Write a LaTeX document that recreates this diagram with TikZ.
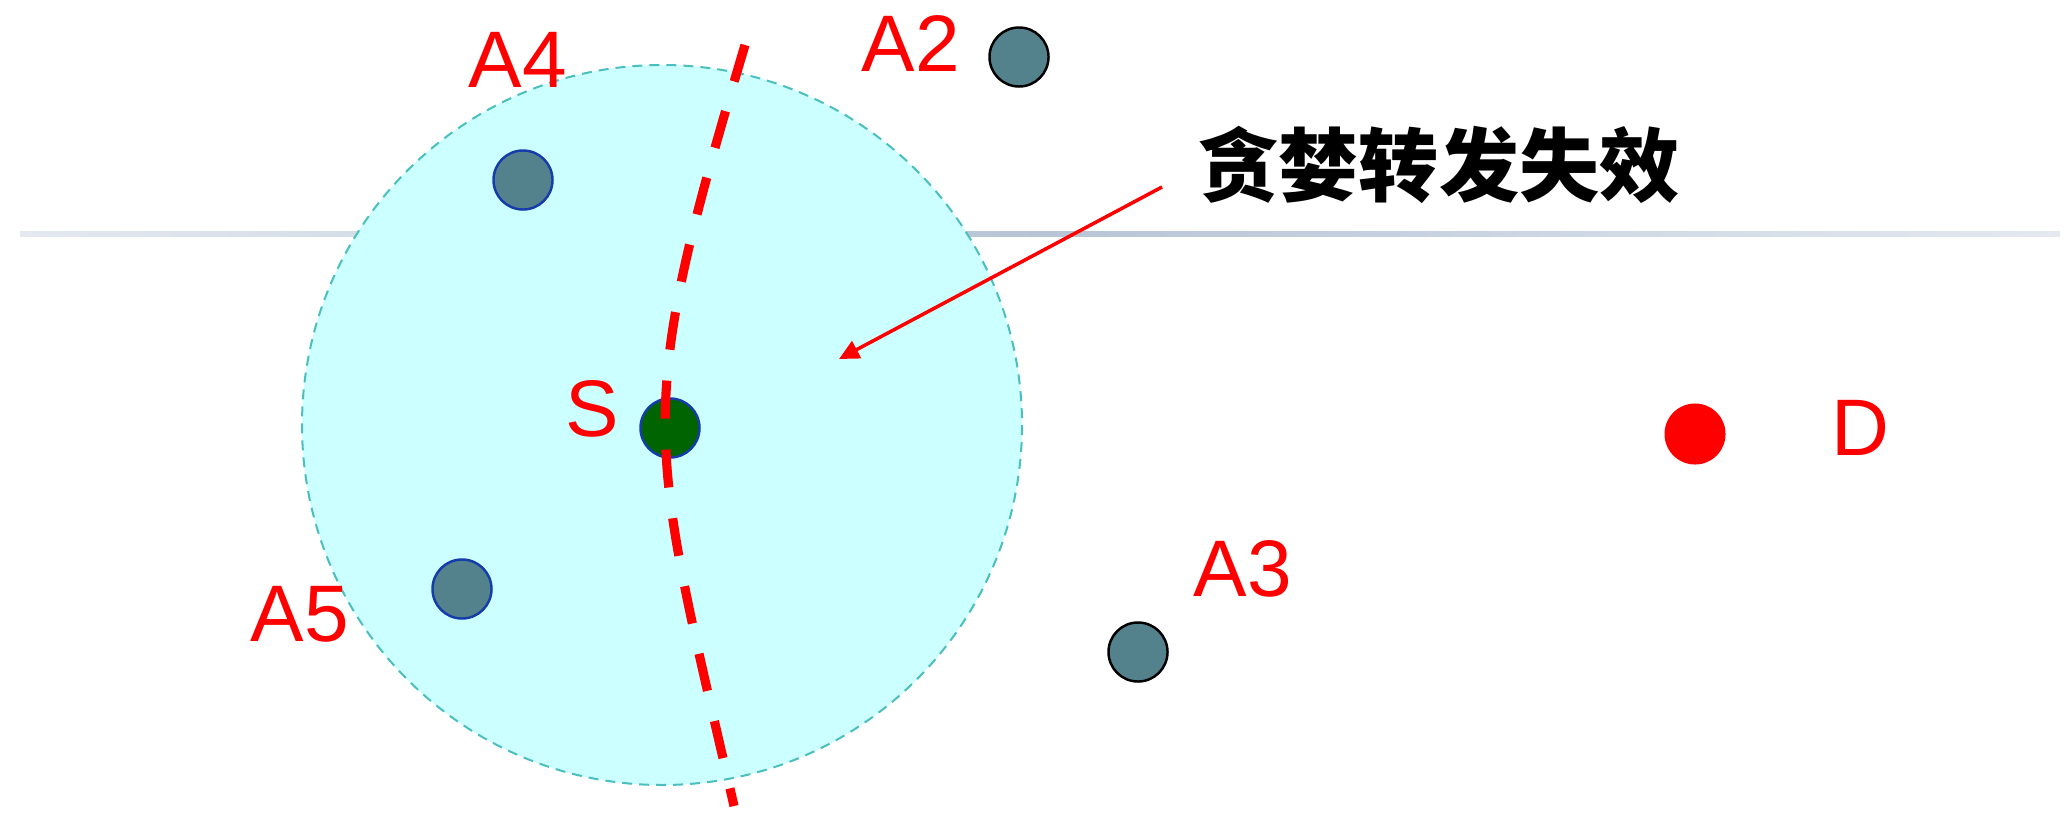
\documentclass[tikz,border=0pt]{standalone}
\usepackage{fontspec}
\setmainfont{Liberation Sans}
\newfontfamily\cjk{Noto Sans CJK SC Black}
\usetikzlibrary{calc}
\usetikzlibrary{arrows.meta}
\definecolor{nodefill}{RGB}{84,130,140}
\definecolor{nodeblue}{RGB}{20,60,170}
\definecolor{srcgreen}{RGB}{0,100,0}
\definecolor{rangefill}{RGB}{204,255,255}
\definecolor{rangeedge}{RGB}{75,190,190}
\definecolor{rulelight}{RGB}{228,233,240}
\definecolor{ruledark}{RGB}{182,196,214}
\tikzstyle{sensor}=[circle,draw=black,fill=nodefill,line width=0.7pt,minimum size=0.59cm,inner sep=0pt]
\tikzstyle{insensor}=[sensor,draw=nodeblue]
\tikzstyle{nodelabel}=[text=red,inner sep=0pt,font=\fontsize{22.8}{27}\selectfont]
\tikzstyle{cutline}=[red,line width=2.6pt,dash pattern=on 0.38cm off 0.31cm]
\begin{document}
\begin{tikzpicture}[x=0.01cm,y=-0.01cm]
\useasboundingbox (0,0) rectangle (2064,818);
% slide rule in the background
\shade[left color=rulelight,right color=rulelight,middle color=ruledark] (20,231) rectangle (2060,236);
% radio range of S
\coordinate (rangecenter) at (662,425);
\draw[rangeedge,fill=rangefill,line width=0.57pt,dash pattern=on 0.1cm off 0.07cm] (rangecenter) circle (360);
\node[insensor] (A4) at (523,180) {};
\node[insensor] (A5) at (462,589) {};
\node[sensor] (A2) at (1019,57) {};
\node[sensor] (A3) at (1138,652) {};
\node[circle,draw=nodeblue,fill=srcgreen,line width=0.7pt,minimum size=0.59cm,inner sep=0pt] (S) at (670,428) {};
\node[circle,fill=red,minimum size=0.61cm,inner sep=0pt] (D) at (1695,434) {};
\node[nodelabel] (labA4) at (518,60) {A4};
\node[nodelabel] (labA2) at (911,44) {A2};
\node[nodelabel] (labS) at (592,409) {S};
\node[nodelabel] (labA5) at (300,614) {A5};
\node[nodelabel] (labA3) at (1243,569) {A3};
\node[nodelabel] (labD) at (1860,428) {D};
% the void boundary through S
\coordinate (cuttop) at (745,45);
\coordinate (cutbot) at (734,806);
\draw[cutline] (cuttop) .. controls (633,420) and (648,431) .. (cutbot);
\node[inner sep=0pt,font=\cjk\fontsize{22.8}{27}\selectfont] (fail) at (1439,165) {贪婪转发失效};
\coordinate (arrowstart) at (1162,187);
\coordinate (arrowtip) at (839,359);
\draw[red,line width=1pt,-{Triangle[length=0.2cm,width=0.19cm]}] (arrowstart) -- (arrowtip);
\end{tikzpicture}
\end{document}
